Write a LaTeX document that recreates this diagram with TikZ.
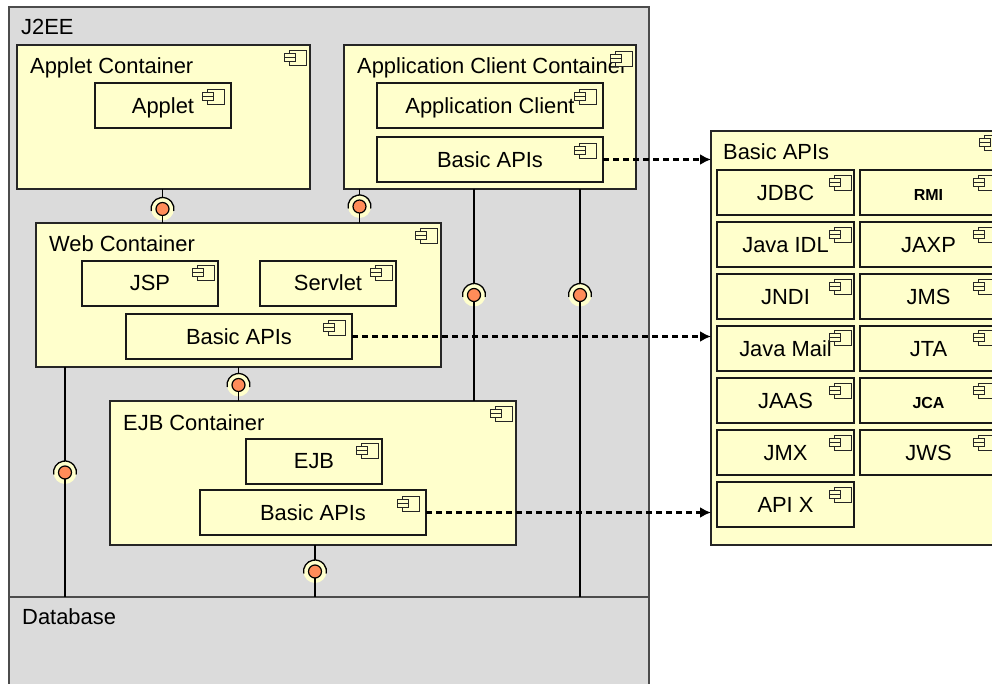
\documentclass[tikz,border=0pt]{standalone}
\usepackage{fontspec}
\setmainfont{Liberation Sans}
\usetikzlibrary{arrows.meta}
\usetikzlibrary{positioning}
\definecolor{boxyellow}{rgb}{1,1,0.8}
\definecolor{panelgray}{rgb}{0.86,0.86,0.86}
\definecolor{ballorange}{rgb}{1,0.55,0.35}
\tikzset{
  panel/.style={draw=black!70, fill=panelgray, line width=1.2pt, anchor=north west, inner sep=0pt, outer sep=0pt},
  outerbox/.style={draw=black!85, fill=boxyellow, line width=1.2pt, anchor=north west, inner sep=0pt, outer sep=0pt},
  innerbox/.style={draw=black!90, fill=boxyellow, line width=1.3pt, anchor=north west, inner sep=0pt, outer sep=0pt, text height=20pt, text depth=4pt, font=\fontsize{21.9}{22}\selectfont},
  wideinner/.style={innerbox, minimum width=226pt, minimum height=45pt},
  shortinner/.style={innerbox, minimum width=136pt, minimum height=45pt},
  raisedinner/.style={shortinner, text height=18pt},
  apibox/.style={shortinner, minimum width=137pt},
  boldinner/.style={apibox, font=\fontsize{16}{16}\selectfont\bfseries},
  title/.style={anchor=base west, inner sep=0pt, font=\fontsize{21.9}{22}\selectfont},
  socket/.style={circle, fill=boxyellow, inner sep=0pt, outer sep=0pt, minimum size=23pt},
  ball/.style={circle, draw=black, fill=ballorange, line width=1.2pt, inner sep=0pt, outer sep=0pt, minimum size=13pt},
  wire/.style={line width=1.3pt, black},
  dep/.style={line width=2.2pt, black, dash pattern=on 6pt off 4pt, -{Latex[length=11pt, width=11pt]}},
  pics/compicon/.style={code={
    \draw [line width=0.9pt, draw=black!85, fill=boxyellow] (-17,0) rectangle (0,15);
    \draw [line width=0.9pt, draw=black!85, fill=boxyellow] (-22,3) rectangle (-11,7);
    \draw [line width=0.9pt, draw=black!85, fill=boxyellow] (-22,7) rectangle (-11,11);
  }}
}
\newcommand{\lollipop}[3]{
  \node [socket] (s#1) at (#2,#3) {};
  \draw [wire] (s#1.190) arc (190:-10:11.5pt);
  \node [ball] (b#1) at (s#1) {};
}
\begin{document}
\begin{tikzpicture}[line cap=butt, line join=miter, x=1pt, y=-1pt]
\useasboundingbox (0,0) rectangle (992,684);
\clip (0,0) rectangle (992,684);
% panels
\node [panel, minimum width=640pt, minimum height=590pt] (j2ee) at (9,7) {};
\node [panel, minimum width=640pt, minimum height=100pt] (database) at (9,597) {};
\node [title] (j2eelab) at (21,35) {J2EE};
\node [title] (databaselab) at (22,624.5) {Database};
% applet container
\node [outerbox, minimum width=293pt, minimum height=144pt] (appletc) at (17,45) {};
\node [title] (appletclab) at (30,74) {Applet Container};
\node [shortinner] (applet) at (95,83) {Applet};
% application client container
\node [outerbox, minimum width=292pt, minimum height=144pt] (appc) at (344,45) {};
\node [title] (appclab) at (357,74) {Application Client Container};
\node [wideinner] (appclient) at (377,83) {Application Client};
\node [wideinner] (appbasic) at (377,137) {Basic APIs};
% web container
\node [outerbox, minimum width=405pt, minimum height=144pt] (webc) at (36,223) {};
\node [title] (webclab) at (49,252) {Web Container};
\node [raisedinner] (jsp) at (82,261) {JSP};
\node [raisedinner] (servlet) at (260,261) {Servlet};
\node [wideinner] (webbasic) at (126,314) {Basic APIs};
% ejb container
\node [outerbox, minimum width=406pt, minimum height=144pt] (ejbc) at (110,401) {};
\node [title] (ejbclab) at (123,430) {EJB Container};
\node [raisedinner] (ejb) at (246,439) {EJB};
\node [wideinner] (ejbbasic) at (200,490) {Basic APIs};
% basic apis
\node [outerbox, minimum width=300pt, minimum height=414pt] (apis) at (711,131) {};
\node [title] (apislab) at (723,159.5) {Basic APIs};
\node [apibox] (jdbc) at (717,170) {JDBC};
\node [boldinner] (rmi) at (860,170) {RMI};
\node [apibox] (javaidl) at (717,222) {Java IDL};
\node [apibox] (jaxp) at (860,222) {JAXP};
\node [apibox] (jndi) at (717,274) {JNDI};
\node [apibox] (jms) at (860,274) {JMS};
\node [apibox] (javamail) at (717,326) {Java Mail};
\node [apibox] (jta) at (860,326) {JTA};
\node [apibox] (jaas) at (717,378) {JAAS};
\node [boldinner] (jca) at (860,378) {JCA};
\node [apibox] (jmx) at (717,430) {JMX};
\node [apibox] (jws) at (860,430) {JWS};
\node [apibox] (apix) at (717,482) {API X};
% icons
\pic at ([xshift=-4pt, yshift=-5.5pt]appletc.north east) {compicon};
\pic at ([xshift=-4pt, yshift=-6pt]appc.north east) {compicon};
\pic at ([xshift=-4pt, yshift=-5.5pt]webc.north east) {compicon};
\pic at ([xshift=-4pt, yshift=-5.5pt]ejbc.north east) {compicon};
\pic at ([xshift=-7pt, yshift=-6pt]applet.north east) {compicon};
\pic at ([xshift=-7pt, yshift=-6pt]appclient.north east) {compicon};
\pic at ([xshift=-7pt, yshift=-6pt]appbasic.north east) {compicon};
\pic at ([xshift=-4pt, yshift=-4pt]jsp.north east) {compicon};
\pic at ([xshift=-4pt, yshift=-4pt]servlet.north east) {compicon};
\pic at ([xshift=-7pt, yshift=-6pt]webbasic.north east) {compicon};
\pic at ([xshift=-4pt, yshift=-4pt]ejb.north east) {compicon};
\pic at ([xshift=-7pt, yshift=-6pt]ejbbasic.north east) {compicon};
\pic at ([xshift=-10pt, yshift=-4pt]apis.north east) {compicon};
\pic at ([xshift=-3pt, yshift=-5pt]jdbc.north east) {compicon};
\pic at ([xshift=-2pt, yshift=-5pt]rmi.north east) {compicon};
\pic at ([xshift=-3pt, yshift=-5pt]javaidl.north east) {compicon};
\pic at ([xshift=-2pt, yshift=-5pt]jaxp.north east) {compicon};
\pic at ([xshift=-3pt, yshift=-5pt]jndi.north east) {compicon};
\pic at ([xshift=-2pt, yshift=-5pt]jms.north east) {compicon};
\pic at ([xshift=-3pt, yshift=-4pt]javamail.north east) {compicon};
\pic at ([xshift=-2pt, yshift=-4pt]jta.north east) {compicon};
\pic at ([xshift=-3pt, yshift=-5pt]jaas.north east) {compicon};
\pic at ([xshift=-2pt, yshift=-5pt]jca.north east) {compicon};
\pic at ([xshift=-3pt, yshift=-5pt]jmx.north east) {compicon};
\pic at ([xshift=-2pt, yshift=-5pt]jws.north east) {compicon};
\pic at ([xshift=-3pt, yshift=-5pt]apix.north east) {compicon};
% assembly links
\lollipop{a}{162.5}{209}
\draw [wire] (sa |- appletc.south) -- (sa.north);
\draw [wire] (ba.south) -- (ba |- webc.north);
\lollipop{b}{359.5}{206.5}
\draw [wire] (sb |- appc.south) -- (sb.north);
\draw [wire] (bb.south) -- (bb |- webc.north);
\lollipop{c}{474}{295}
\draw [wire] (sc |- appc.south) -- (sc.north);
\draw [wire] (bc.south) -- (bc |- ejbc.north);
\lollipop{d}{580}{295}
\draw [wire] (sd |- appc.south) -- (sd.north);
\draw [wire] (bd.south) -- (bd |- database.north);
\lollipop{e}{238.5}{385}
\draw [wire] (se |- webc.south) -- (se.north);
\draw [wire] (be.south) -- (be |- ejbc.north);
\lollipop{f}{65}{472.5}
\draw [wire] (sf |- webc.south) -- (sf.north);
\draw [wire] (bf.south) -- (bf |- database.north);
\lollipop{g}{315}{571.5}
\draw [wire] (sg |- ejbc.south) -- (sg.north);
\draw [wire] (bg.south) -- (bg |- database.north);
% dependencies
\draw [dep] (appbasic.east) -- (appbasic.east -| apis.west);
\draw [dep] (webbasic.east) -- (webbasic.east -| apis.west);
\draw [dep] (ejbbasic.east) -- (ejbbasic.east -| apis.west);
\end{tikzpicture}
\end{document}
